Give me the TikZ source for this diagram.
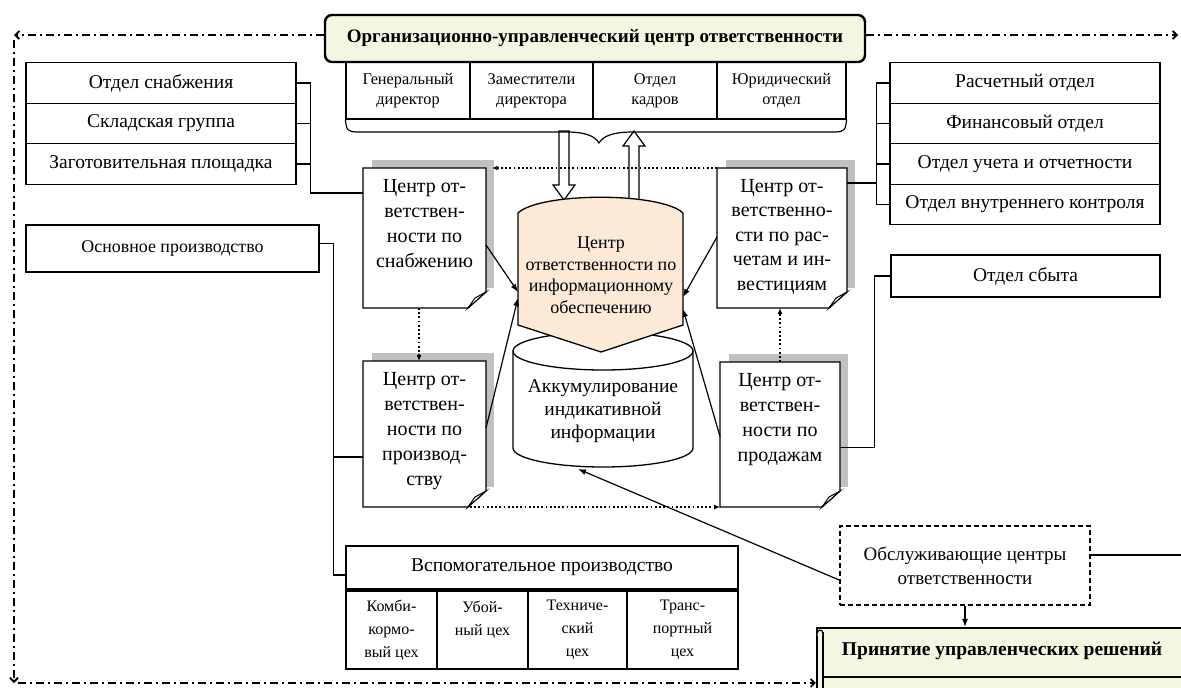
\documentclass[tikz,border=0pt]{standalone}
\usepackage{fontspec}
\setmainfont{Liberation Serif}
\usetikzlibrary{arrows.meta,calc}
\definecolor{hdrfill}{RGB}{243,246,224}
\definecolor{peach}{RGB}{252,233,214}
\definecolor{shadowgray}{RGB}{192,192,192}
\newcommand{\fs}[2]{\fontsize{#1}{#2}\selectfont}
\newcommand{\docshape}[4]{%
  \fill[shadowgray] (#1+9,#2-8) rectangle (#3+8,#4-20);
  \draw[line width=1.3pt, fill=white] (#1,#2) -- (#3,#2) -- (#3,#4-16) -- (#3-18,#4) -- (#1,#4) -- cycle;
  \draw[line width=1pt, fill=white] (#3,#4-16) -- (#3-11,#4-10) -- (#3-18,#4) -- cycle;
}
\begin{document}
\begin{tikzpicture}[x=1pt,y=-1pt,
  box/.style={draw, line width=1.3pt, inner sep=0pt, align=center, font=\fs{19.5}{22}},
  small/.style={font=\fs{16.3}{20}},
  ghost/.style={inner sep=0pt, outer sep=0pt},
  doctext/.style={anchor=north, align=center, inner sep=0pt, font=\fs{20}{25}},
  cell/.style={box, font=\fs{16}{23}, minimum height=78pt},
  conn/.style={line width=1.2pt},
  dotc/.style={line width=1.8pt, dash pattern=on 1.8pt off 2.4pt, -{Latex[length=6pt,width=5pt]}},
  frame/.style={line width=1.8pt, dash pattern=on 8pt off 4pt on 2pt off 4pt, -{Straight Barb[length=4pt,width=8pt]}},
  ptr/.style={line width=1.2pt, -{Latex[length=8pt,width=6pt]}},
  hollow/.style={draw, line width=1.2pt, fill=white}]

\useasboundingbox (0,0) rectangle (1181,688);

% ---------- outer frame ----------
\coordinate (tl) at (14,35);
\coordinate (bl) at (14,683);
\coordinate (tr) at (1178,35);

% ---------- header ----------
\node[draw, line width=2.4pt, rounded corners=7pt, fill=hdrfill, minimum width=540pt, minimum height=47pt, inner sep=0pt,
      font=\fs{19}{22}\bfseries] (hdr) at (595,38.5) {Организационно-управленческий центр ответственности};

\draw[frame] (hdr.west |- tl) -- (tl);
\draw[frame] ([yshift=-5pt]tl) -- (bl);
\draw[frame] (hdr.east |- tr) -- (tr);

\node[box, small, minimum width=124pt, minimum height=57pt] (g1) at (408,90.5) {Генеральный\\директор};
\node[box, small, minimum width=123pt, minimum height=57pt] (g2) at (531.5,90.5) {Заместители\\директора};
\node[box, small, minimum width=124pt, minimum height=57pt] (g3) at (655,90.5) {Отдел\\кадров};
\node[box, small, minimum width=129pt, minimum height=57pt] (g4) at (781.5,90.5) {Юридический\\отдел};

% double arrows between header group and info centre
\draw[hollow] (559,131) -- (569,131) -- (569,185) -- (575,185) -- (564,200) -- (553,185) -- (559,185) -- cycle;
\draw[hollow] (629,201) -- (629,146) -- (623,146) -- (634,131) -- (645,146) -- (639,146) -- (639,201) -- cycle;

% brace under the header group
\draw[line width=1.2pt] (g1.south west) -- (346,124) .. controls (346,129) and (349,132) .. (356,132) -- (567,132)
  .. controls (585,132) and (595,136) .. (599,143) .. controls (603,136) and (613,132) .. (633,132) -- (836,132)
  .. controls (843,132) and (846,129) .. (846,124) -- (g4.south east);

% ---------- left boxes ----------
\node[box, minimum width=270pt, minimum height=40.5pt] (sn1) at (161,83) {Отдел снабжения};
\node[box, minimum width=270pt, minimum height=40.5pt] (sn2) at (161,123.5) {Складская группа};
\node[box, minimum width=270pt, minimum height=40.5pt] (sn3) at (161,164) {Заготовительная площадка};
\node[box, font=\fs{17.9}{20}, minimum width=293pt, minimum height=47pt] (osn) at (172.5,248.5) {Основное производство};

% ---------- right boxes ----------
\node[box, minimum width=270pt, minimum height=40.5pt] (r1) at (1025,83) {Расчетный отдел};
\node[box, minimum width=270pt, minimum height=40.5pt] (r2) at (1025,123.5) {Финансовый отдел};
\node[box, minimum width=270pt, minimum height=40.5pt] (r3) at (1025,164) {Отдел учета и отчетности};
\node[box, minimum width=270pt, minimum height=40.5pt] (r4) at (1025,204.5) {Отдел внутреннего контроля};
\node[box, minimum width=269pt, minimum height=42pt] (sbyt) at (1025.5,276) {Отдел сбыта};

% ---------- documents ----------
\docshape{363}{168}{486}{308}
\docshape{363}{361}{486}{507}
\docshape{717}{168}{847}{308}
\docshape{720}{362}{840}{507}
\node[ghost, minimum width=123pt, minimum height=140pt] (snab) at (424.5,238) {};
\node[ghost, minimum width=123pt, minimum height=146pt] (proizv) at (424.5,434) {};
\node[ghost, minimum width=130pt, minimum height=140pt] (rasch) at (782,238) {};
\node[ghost, minimum width=120pt, minimum height=145pt] (prod) at (780,434.5) {};
\node[doctext] (snabT) at (424.5,179) {Центр от-\\ветствен-\\ности по\\снабжению};
\node[doctext] (proizvT) at (424.5,372) {Центр от-\\ветствен-\\ности по\\производ-\\ству};
\node[doctext, font=\fs{20}{24.5}] (raschT) at (782,179) {Центр от-\\ветственно-\\сти по рас-\\четам и ин-\\вестициям};
\node[doctext] (prodT) at (780,373) {Центр от-\\ветствен-\\ности по\\продажам};

% ---------- cylinder ----------
\draw[line width=1.3pt, fill=white] (513,351) -- (513,448) arc[start angle=180, end angle=0, x radius=90, y radius=19]
  -- (693,351) arc[start angle=0, end angle=-180, x radius=90, y radius=19] -- cycle;
\draw[line width=1.3pt] (513,351) arc[start angle=180, end angle=0, x radius=90, y radius=19];
\node[ghost, minimum width=180pt, minimum height=97pt] (cyl) at (603,399.5) {};
\node[align=center, inner sep=0pt, font=\fs{19.5}{23}] (cylT) at (603,411) {Аккумулирование\\индикативной\\информации};

% ---------- info centre ----------
\draw[line width=1.3pt, fill=peach] (518,325) -- (518,213) .. controls (540,192) and (661,192) .. (683,213)
  -- (683,325) -- (601,352) -- cycle;
\node[ghost, minimum width=165pt, minimum height=112pt] (info) at (600.5,269) {};
\node[align=center, inner sep=0pt, font=\fs{18}{21.5}] (infoT) at (601,275) {Центр\\ответственности по\\информационному\\обеспечению};

% ---------- auxiliary production ----------
\node[box, minimum width=392pt, minimum height=43pt] (vsp) at (542,567.5) {Вспомогательное производство};
\node[cell, minimum width=91pt] (c1) at (391.5,630) {Комби-\\кормо-\\вый цех};
\node[cell, minimum width=91pt] (c2) at (482.5,630) {Убой-\\ный цех\\\mbox{}};
\node[cell, minimum width=99pt] (c3) at (577.5,630) {Техниче-\\ский\\цех};
\node[cell, minimum width=111pt] (c4) at (682.5,630) {Транс-\\портный\\цех};

% ---------- service centres ----------
\node[draw, line width=1.6pt, dash pattern=on 5pt off 3pt, minimum width=250pt, minimum height=79pt, inner sep=0pt,
      align=center, font=\fs{19}{24}] (obsl) at (965,565.5) {Обслуживающие центры\\ответственности};

% ---------- decisions scroll ----------
\begin{scope}
\clip (0,0) rectangle (1181,688);
\node[draw, line width=2.2pt, fill=hdrfill, minimum width=380pt, minimum height=75pt, inner sep=0pt] (prin) at (1007,665.5) {};
\draw[line width=1.2pt] (823,632) -- (823,704);
\draw[line width=1.2pt] (823,677) -- (1200,677);
\draw[line width=1.2pt, fill=hdrfill] (817,636) .. controls (816,629) and (823,628) .. (823,634);
\end{scope}
\node[inner sep=0pt, font=\fs{19.5}{22}\bfseries] (prinT) at (1002,651) {Принятие управленческих решений};

\draw[frame] ([xshift=4pt]bl) -- (prin.west |- bl);

% ---------- connectors ----------
\draw[conn] (sn1.east) -- ++(14,0) |- ([yshift=45pt]snab.west);
\draw[conn] (sn2.east) -- ++(14,0);
\draw[conn] (sn3.east) -- ++(14,0);

\draw[conn] ([yshift=5pt]osn.east) -- ++(14,0) coordinate (osnb) |- ([yshift=-7.5pt]vsp.west);
\coordinate (pL) at ([yshift=-23pt]proizv.west);
\draw[conn] (osnb |- pL) -- (pL);

\draw[conn] (r1.west) -- ++(-13,0) |- (r4.west);
\draw[conn] (r2.west) -- ++(-13,0);
\draw[conn] (r3.west) -- ++(-13,0);
\draw[conn] ([yshift=55pt]rasch.east) -- ++(30,0);

\draw[conn] (sbyt.west) -- ++(-16,0) |- ([yshift=-13pt]prod.east);

\draw[ptr] ([yshift=-7pt]snab.east) -- ([yshift=-23pt]info.west);
\draw[ptr] ([yshift=6pt]proizv.east) -- ([yshift=-29pt]info.west);
\draw[ptr] ([yshift=1pt]rasch.west) -- ([yshift=-28pt]info.east);
\draw[ptr] ([yshift=-2pt]prod.west) -- ([yshift=-40pt]info.east);
\draw[ptr] ([yshift=-14.5pt]obsl.west) -- ([xshift=-25pt,yshift=-21pt]cyl.south);
\draw[ptr] (obsl.south) -- (obsl.south |- prin.north);
\coordinate (rEdge) at (1181,555);
\draw[conn] ([yshift=10.5pt]obsl.east) -- (rEdge);

\draw[dotc] (rasch.north west) -- ([xshift=6pt]snab.north east);
\draw[dotc] ([xshift=-5.5pt]snab.south) -- ([xshift=-5.5pt]proizv.north);
\draw[dotc] ([xshift=-16pt]proizv.south east) -- (prod.south west);
\draw[dotc] (prod.north) -- (prod.north |- rasch.south);
\end{tikzpicture}
\end{document}
